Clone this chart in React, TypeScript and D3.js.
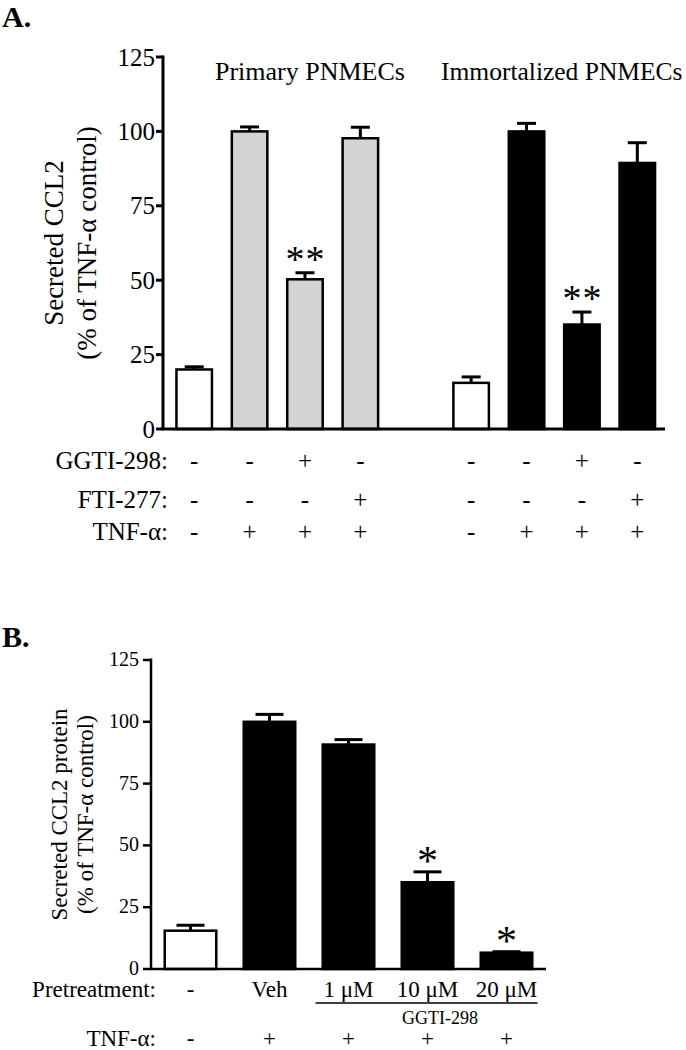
import React from "react";
import * as d3 from "d3";

// ---------- Panel A data ----------
const groupTitlesA = ["Primary PNMECs", "Immortalized PNMECs"];
const barKeysA = ["P-ctrl", "P-TNF", "P-GGTI", "P-FTI", "I-ctrl", "I-TNF", "I-GGTI", "I-FTI"];
const barKindA = ["untreated", "primary", "primary", "primary", "untreated", "immortalized", "immortalized", "immortalized"];
const valuesA = [20, 100, 50.3, 97.7, 15.5, 100, 35.1, 89.4];
const errorsA = [0.9, 1.5, 2.2, 3.7, 2.0, 2.7, 4.2, 6.8];
const sigA = ["", "", "**", "", "", "", "**", ""];
const ggtiA = ["-", "-", "+", "-", "-", "-", "+", "-"];
const ftiA = ["-", "-", "-", "+", "-", "-", "-", "+"];
const tnfA = ["-", "+", "+", "+", "-", "+", "+", "+"];
const rowLabelsA = ["GGTI-298:", "FTI-277:", "TNF-\u03b1:"];
const ticksA = [0, 25, 50, 75, 100, 125];

// ---------- Panel B data ----------
const categoriesB = ["-", "Veh", "1 \u03bcM", "10 \u03bcM", "20 \u03bcM"];
const barKindB = ["untreated", "treated", "treated", "treated", "treated"];
const valuesB = [15.5, 100, 90.8, 35.1, 6.6];
const errorsB = [2.2, 3.0, 2.0, 4.2, 0.4];
const sigB = ["", "", "", "*", "*"];
const tnfB = ["-", "+", "+", "+", "+"];
const ticksB = [0, 25, 50, 75, 100, 125];

const FONT = "'Liberation Serif', 'Times New Roman', Times, serif";
const fillColor: Record<string, string> = {
  untreated: "#ffffff",
  primary: "#d3d3d3",
  immortalized: "#000000",
  treated: "#000000",
};

export default function App() {
  // Panel A scales
  const slotDomainA = [...barKeysA.slice(0, 4), "gap", ...barKeysA.slice(4)];
  const xA = d3
    .scaleBand<string>()
    .domain(slotDomainA)
    .range([166.5, 665])
    .paddingInner(0.314)
    .paddingOuter(0.157);
  const yA = d3.scaleLinear().domain([0, 125]).range([429, 57]);
  const axA = 163;
  const bwA = xA.bandwidth();

  // Panel B scales
  const xB = d3
    .scaleBand<string>()
    .domain(categoriesB)
    .range([151, 546])
    .paddingInner(0.316)
    .paddingOuter(0.158);
  const yB = d3.scaleLinear().domain([0, 125]).range([969, 660]);
  const axB = 151;
  const bwB = xB.bandwidth();

  const cA = (k: string) => (xA(k) as number) + bwA / 2;
  const cB = (k: string) => (xB(k) as number) + bwB / 2;

  const rowsA = [ggtiA, ftiA, tnfA];
  const rowYA = [469, 507.5, 540];

  const starFontA = 38;
  const starFontB = 42;

  return (
    <svg
      width={686}
      height={1050}
      style={{ position: "absolute", left: 0, top: 0, background: "#fff" }}
      fontFamily={FONT}
    >
      <rect x={0} y={0} width={686} height={1050} fill="#fff" />
      {/* ================= Panel A ================= */}
      <text x={2} y={27} fontSize={30} fontWeight="bold">A.</text>

      {/* group titles */}
      <text x={215} y={80} fontSize={26}>{groupTitlesA[0]}</text>
      <text x={441} y={80} fontSize={25.5}>{groupTitlesA[1]}</text>

      {/* y axis title */}
      <g transform={`translate(63, ${yA(62.5)}) rotate(-90)`}>
        <text x={0} y={0} fontSize={27} textAnchor="middle">Secreted CCL2</text>
        <text x={0} y={33} fontSize={27} textAnchor="middle">(% of TNF-{"\u03b1"} control)</text>
      </g>

      {/* bars */}
      {barKeysA.map((k, i) => {
        const x = xA(k) as number;
        const v = valuesA[i];
        return (
          <rect
            key={k}
            x={x + 1.25}
            y={yA(v)}
            width={bwA - 2.5}
            height={yA(0) - yA(v)}
            fill={fillColor[barKindA[i]]}
            stroke="#000"
            strokeWidth={2.5}
          />
        );
      })}
      {/* error bars */}
      {barKeysA.map((k, i) => {
        const cx = cA(k);
        const top = yA(valuesA[i] + errorsA[i]);
        return (
          <g key={"e" + k} stroke="#000" strokeWidth={3}>
            <line x1={cx} x2={cx} y1={yA(valuesA[i])} y2={top} />
            <line x1={cx - 9.5} x2={cx + 9.5} y1={top} y2={top} />
          </g>
        );
      })}
      {/* significance */}
      {barKeysA.map((k, i) => {
        if (!sigA[i]) return null;
        const cx = cA(k);
        const top = yA(valuesA[i] + errorsA[i]);
        const stars = sigA[i].split("");
        return (
          <g key={"s" + k}>
            {stars.map((s, j) => (
              <text
                key={j}
                x={cx + (j - (stars.length - 1) / 2) * 20}
                y={top - 20 + starFontA * 0.5}
                fontSize={starFontA}
                textAnchor="middle"
              >
                {s}
              </text>
            ))}
          </g>
        );
      })}

      {/* axes */}
      <line x1={axA} x2={axA} y1={yA(125) - 1.5} y2={yA(0)} stroke="#000" strokeWidth={3} />
      <line x1={axA - 1.5} x2={665} y1={yA(0)} y2={yA(0)} stroke="#000" strokeWidth={3} />
      {ticksA.map((t) => (
        <g key={"ta" + t}>
          <line x1={axA - 7} x2={axA} y1={yA(t)} y2={yA(t)} stroke="#000" strokeWidth={3} />
          <text x={axA - 8} y={yA(t) + 8.5} fontSize={25} textAnchor="end">{t}</text>
        </g>
      ))}

      {/* treatment rows */}
      {rowLabelsA.map((lab, r) => (
        <g key={"row" + r}>
          <text x={168} y={rowYA[r]} fontSize={25} textAnchor="end">{lab}</text>
          {rowsA[r].map((s, i) => (
            <text key={i} x={cA(barKeysA[i])} y={rowYA[r]} fontSize={25} textAnchor="middle">{s}</text>
          ))}
        </g>
      ))}

      {/* ================= Panel B ================= */}
      <text x={2} y={647} fontSize={30} fontWeight="bold">B.</text>

      <g transform={`translate(67, ${yB(62.5)}) rotate(-90)`}>
        <text x={0} y={0} fontSize={23} textAnchor="middle">Secreted CCL2 protein</text>
        <text x={0} y={26} fontSize={23} textAnchor="middle">(% of TNF-{"\u03b1"} control)</text>
      </g>

      {categoriesB.map((k, i) => {
        const x = xB(k) as number;
        const v = valuesB[i];
        return (
          <rect
            key={"b" + k}
            x={x + 1.25}
            y={yB(v)}
            width={bwB - 2.5}
            height={yB(0) - yB(v)}
            fill={fillColor[barKindB[i]]}
            stroke="#000"
            strokeWidth={2.5}
          />
        );
      })}
      {categoriesB.map((k, i) => {
        const cx = cB(k);
        const top = yB(valuesB[i] + errorsB[i]);
        return (
          <g key={"eb" + k} stroke="#000" strokeWidth={3}>
            <line x1={cx} x2={cx} y1={yB(valuesB[i])} y2={top} />
            <line x1={cx - 14} x2={cx + 14} y1={top} y2={top} />
          </g>
        );
      })}
      {categoriesB.map((k, i) => {
        if (!sigB[i]) return null;
        const cx = cB(k);
        const top = yB(valuesB[i] + errorsB[i]);
        return (
          <text
            key={"sb" + k}
            x={cx}
            y={top - 18 + starFontB * 0.5}
            fontSize={starFontB}
            textAnchor="middle"
          >
            {sigB[i]}
          </text>
        );
      })}

      <line x1={axB} x2={axB} y1={yB(125) - 1.5} y2={yB(0)} stroke="#000" strokeWidth={2.5} />
      <line x1={axB - 1.25} x2={546} y1={yB(0)} y2={yB(0)} stroke="#000" strokeWidth={2.5} />
      {ticksB.map((t) => (
        <g key={"tb" + t}>
          <line x1={axB - 8} x2={axB} y1={yB(t)} y2={yB(t)} stroke="#000" strokeWidth={2.5} />
          <text x={axB - 12} y={yB(t) + 6} fontSize={20} textAnchor="end">{t}</text>
        </g>
      ))}

      {/* Pretreatment row */}
      <text x={156} y={997} fontSize={23} textAnchor="end">Pretreatment:</text>
      {categoriesB.map((k) => (
        <text key={"pl" + k} x={cB(k)} y={997} fontSize={23} textAnchor="middle">{k}</text>
      ))}
      <line
        x1={(xB(categoriesB[2]) as number) - 6}
        x2={(xB(categoriesB[4]) as number) + bwB + 4}
        y1={1003}
        y2={1003}
        stroke="#000"
        strokeWidth={1.5}
      />
      <text x={440} y={1024} fontSize={18} textAnchor="middle">GGTI-298</text>

      {/* TNF row */}
      <text x={156} y={1046} fontSize={23} textAnchor="end">TNF-{"\u03b1"}:</text>
      {categoriesB.map((k, i) => (
        <text key={"tn" + k} x={cB(k)} y={1046} fontSize={23} textAnchor="middle">{tnfB[i]}</text>
      ))}
    </svg>
  );
}
